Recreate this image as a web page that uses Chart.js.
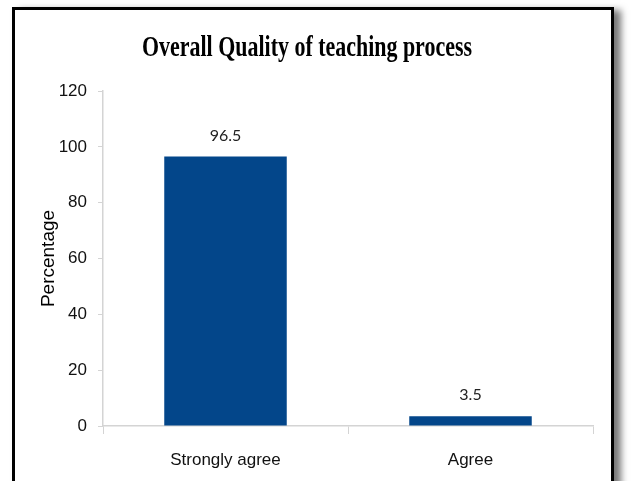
<!DOCTYPE html>
<html>
<head>
<meta charset="utf-8">
<script src="https://cdn.jsdelivr.net/npm/chart.js@4/dist/chart.umd.min.js"></script>
<style>
  html, body { margin: 0; padding: 0; background: #fff; overflow: hidden; }
  #frame {
    position: absolute; left: 12px; top: 7px; width: 596px; height: 520px;
    border: 3px solid #000; box-shadow: 7px 3px 7px #777;
  }
  #wrap { position: absolute; left: 0; top: 0; width: 632px; height: 481px; }
</style>
</head>
<body>
<div id="frame"></div>
<div id="wrap"><canvas id="chart" width="632" height="481"></canvas></div>
<script>
(function(){

    'use strict'

    var chartTitle = 'Overall Quality of teaching process';
    var categories = ['Strongly agree', 'Agree'];
    var percentages = [96.5, 3.5];
    var yTicks = [0, 20, 40, 60, 80, 100, 120];

    var axisGray = '#d4d4d4';
    var barBlue = '#03468a';

    // writes the value above each bar
    var valueLabels = {
        id: 'valueLabels',
        afterDatasetsDraw: function(chart) {
            var ctx = chart.ctx;
            var meta = chart.getDatasetMeta(0);
            ctx.save();
            ctx.font = '16px Lato, "Liberation Sans", sans-serif';
            ctx.fillStyle = '#222';
            ctx.textAlign = 'center';
            ctx.textBaseline = 'middle';
            meta.data.forEach(function(bar, i) {
                ctx.fillText(String(percentages[i]), bar.x, bar.y - 21);
            });
            ctx.restore();
        }
    };

    // title in a tall, narrow serif, like the original picture
    var narrowTitle = {
        id: 'narrowTitle',
        afterDraw: function(chart) {
            var ctx = chart.ctx;
            ctx.save();
            ctx.font = 'bold 29px "Liberation Serif", serif';
            ctx.fillStyle = '#000';
            ctx.textAlign = 'center';
            ctx.textBaseline = 'alphabetic';
            var w = ctx.measureText(chartTitle).width;
            var sx = 330 / w;
            ctx.translate(307, 56);
            ctx.scale(sx, 1);
            ctx.fillText(chartTitle, 0, 0);
            ctx.restore();
        }
    };

    var ctx = document.getElementById('chart').getContext('2d');

    new Chart(ctx, {
        type: 'bar',
        data: {
            labels: categories,
            datasets: [{
                data: percentages,
                backgroundColor: barBlue,
                categoryPercentage: 0.5,
                barPercentage: 1
            }]
        },
        options: {
            responsive: false,
            animation: false,
            events: [],
            layout: { padding: { left: 0, right: 39, top: 91, bottom: 0 } },
            plugins: {
                legend: { display: false },
                tooltip: { enabled: false },
                title: { display: false }
            },
            scales: {
                x: {
                    grid: { offset: true, drawOnChartArea: false, tickLength: 8, color: axisGray },
                    border: { color: axisGray, width: 1.5 },
                    ticks: {
                        color: '#111',
                        padding: 16,
                        font: { family: '"Liberation Sans", Arial, sans-serif', size: 17 }
                    },
                    afterFit: function(scale) { scale.height = 55; }
                },
                y: {
                    min: 0,
                    max: 120,
                    afterBuildTicks: function(scale) {
                        scale.ticks = yTicks.map(function(v) { return { value: v }; });
                    },
                    grid: { drawOnChartArea: false, tickLength: 5, color: axisGray },
                    border: { color: axisGray, width: 1.5 },
                    ticks: {
                        color: '#111',
                        padding: 11,
                        font: { family: '"Liberation Sans", Arial, sans-serif', size: 17 }
                    },
                    title: {
                        display: true,
                        text: 'Percentage',
                        color: '#000',
                        padding: { top: 37, bottom: 0 },
                        font: { family: '"Liberation Sans", Arial, sans-serif', size: 19 }
                    },
                    afterFit: function(scale) { scale.width = 103; }
                }
            }
        },
        plugins: [valueLabels, narrowTitle]
    });

})();
</script>
</body>
</html>
